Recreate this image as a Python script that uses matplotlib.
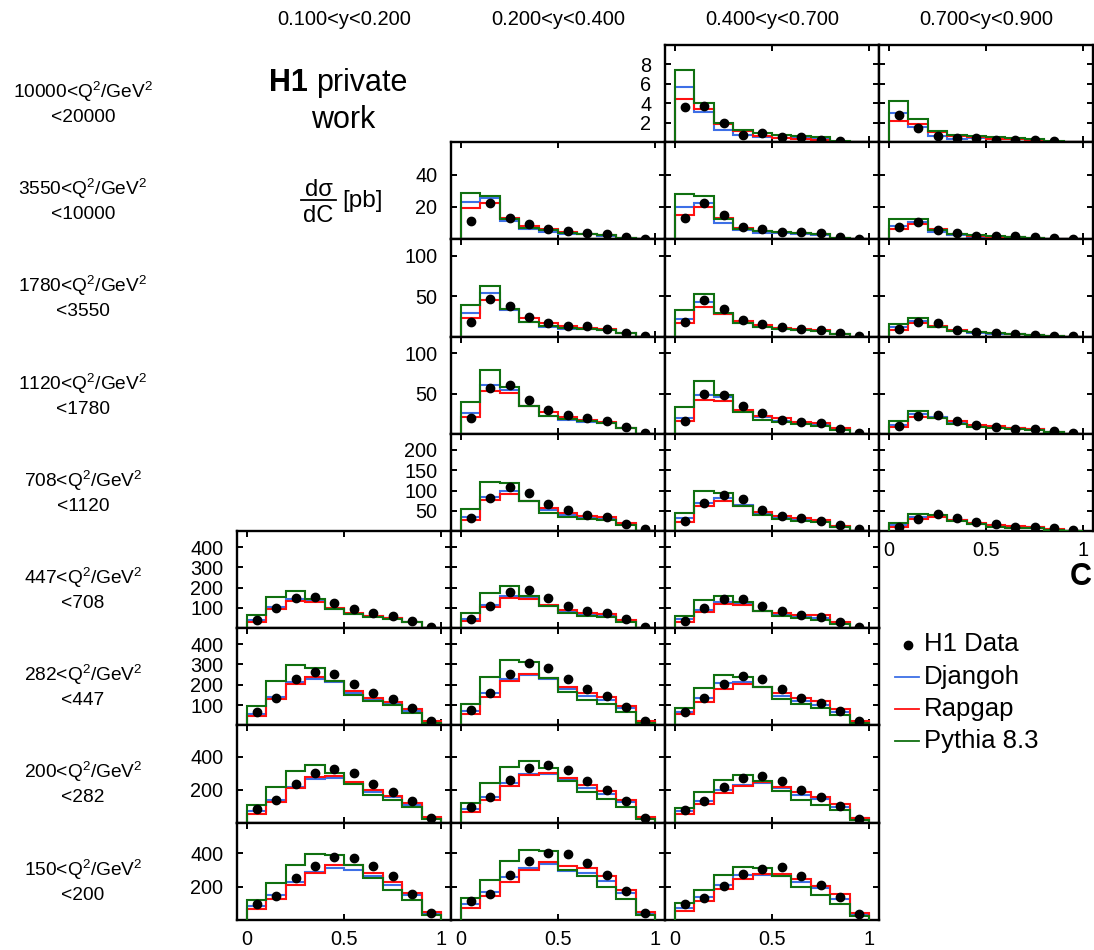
import numpy as np
import matplotlib
matplotlib.use("Agg")
import matplotlib.pyplot as plt
from matplotlib.lines import Line2D

plt.rcParams['font.family'] = ['Liberation Sans', 'DejaVu Sans']
plt.rcParams['mathtext.fontset'] = 'custom'
plt.rcParams['mathtext.rm'] = 'Liberation Sans'
plt.rcParams['mathtext.it'] = 'Liberation Sans:italic'
plt.rcParams['mathtext.bf'] = 'Liberation Sans:bold'

# ---------------------------------------------------------------- binning
C_EDGES = [0.0, 0.1, 0.2, 0.3, 0.4, 0.5, 0.6, 0.7, 0.8, 0.9, 1.0]
Y_BINS = ["0.100<y<0.200", "0.200<y<0.400", "0.400<y<0.700", "0.700<y<0.900"]
Q2_LOW = ["10000", "3550", "1780", "1120", "708", "447", "282", "200", "150"]
Q2_HIGH = ["20000", "10000", "3550", "1780", "1120", "708", "447", "282", "200"]
Y_TICKS = [[2, 4, 6, 8], [20, 40], [50, 100], [50, 100], [50, 100, 150, 200],
           [100, 200, 300, 400], [100, 200, 300, 400], [200, 400], [200, 400]]
Y_MAX = [10, 60, 120, 121, 240, 480, 478, 592, 585]

nan = float('nan')

# ---------------------------------------------------------------- dsigma/dC [pb]
# Q2 10000-20000
h1_r0c2 = [3.57, 3.74, 2.0, 0.79, 0.96, 0.51, 0.55, 0.27, 0.1, nan]
dj_r0c2 = [5.65, 3.1, 1.3, 0.79, 0.55, 0.44, 0.4, 0.3, 0.05, 0]
rg_r0c2 = [4.43, 3.4, 1.83, 1.13, 0.68, 0.44, 0.37, 0.27, 0.05, 0]
py_r0c2 = [7.4, 4.0, 2.0, 1.24, 0.96, 0.79, 0.68, 0.51, 0.16, 0]
h1_r0c3 = [2.8, 1.48, 0.61, 0.44, 0.44, 0.27, 0.27, 0.23, 0.1, nan]
dj_r0c3 = [3.04, 1.59, 0.61, 0.37, 0.44, 0.35, 0.3, 0.25, 0.05, 0]
rg_r0c3 = [2.18, 1.83, 1.07, 0.6, 0.5, 0.37, 0.37, 0.27, 0.05, 0]
py_r0c3 = [4.25, 2.42, 1.2, 0.79, 0.61, 0.5, 0.44, 0.37, 0.1, 0]

# Q2 3550-10000
h1_r1c1 = [11.4, 22.3, 13.0, 9.3, 6.4, 5.2, 4.1, 3.5, 1.4, 0.4]
dj_r1c1 = [23.3, 25.4, 11.4, 6.2, 4.7, 3.5, 3.1, 2.1, 0.6, 0]
rg_r1c1 = [19.2, 22.3, 13.4, 8.3, 6.2, 4.7, 3.5, 2.7, 0.6, 0]
py_r1c1 = [28.5, 26.8, 12.4, 7.2, 5.6, 4.1, 3.5, 2.5, 0.6, 0]
h1_r1c2 = [13.0, 22.7, 15.1, 7.8, 6.4, 4.5, 4.3, 3.7, 1.4, 0.4]
dj_r1c2 = [20.2, 22.7, 10.3, 5.6, 4.1, 3.7, 3.5, 2.9, 1.0, 0]
rg_r1c2 = [15.1, 20.2, 13.0, 6.8, 5.2, 4.5, 3.9, 3.1, 1.0, 0]
py_r1c2 = [27.9, 26.8, 12.4, 6.2, 5.2, 4.7, 4.1, 3.5, 1.0, 0]
h1_r1c3 = [7.6, 10.7, 5.6, 3.7, 2.3, 2.1, 1.9, 1.2, 0.6, 0.2]
dj_r1c3 = [8.3, 10.9, 4.7, 2.5, 1.6, 1.4, 1.2, 0.9, 0.2, 0]
rg_r1c3 = [6.6, 9.3, 6.2, 3.5, 2.1, 1.6, 1.3, 0.9, 0.2, 0]
py_r1c3 = [12.8, 12.4, 5.6, 3.5, 2.5, 1.9, 1.4, 1.0, 0.2, 0]

# Q2 1780-3550
h1_r2c1 = [18.4, 46.3, 37.3, 23.8, 16.4, 13.5, 12.7, 9.4, 4.1, 1.2]
dj_r2c1 = [28.7, 53.7, 32.8, 17.6, 12.3, 9.4, 9.0, 7.8, 4.1, 0]
rg_r2c1 = [23.0, 45.5, 34.0, 23.0, 16.4, 12.7, 10.2, 9.0, 4.1, 0]
py_r2c1 = [38.9, 61.9, 34.0, 18.4, 13.5, 10.2, 9.4, 8.2, 4.1, 0]
h1_r2c2 = [17.6, 45.5, 34.0, 20.5, 15.6, 11.5, 9.4, 8.2, 4.1, 0.8]
dj_r2c2 = [21.7, 43.0, 27.9, 16.4, 11.5, 9.4, 8.2, 7.4, 3.3, 0]
rg_r2c2 = [16.8, 36.0, 27.9, 19.7, 14.8, 10.7, 9.0, 8.2, 3.3, 0]
py_r2c2 = [32.8, 52.5, 29.0, 16.4, 12.3, 9.4, 8.2, 7.4, 3.3, 0]
h1_r2c3 = [9.4, 18.4, 16.4, 8.6, 6.1, 4.5, 3.3, 2.5, 1.2, 0.4]
dj_r2c3 = [11.5, 19.7, 12.3, 6.6, 4.9, 3.3, 2.9, 2.3, 0.8, 0]
rg_r2c3 = [8.2, 16.4, 13.5, 8.6, 6.1, 4.5, 3.7, 2.5, 0.8, 0]
py_r2c3 = [15.6, 22.5, 12.3, 7.4, 5.3, 4.1, 3.3, 2.5, 0.8, 0]

# Q2 1120-1780
h1_r3c1 = [19.2, 56.7, 61.3, 42.1, 30.0, 23.8, 19.2, 15.8, 8.8, 1.2]
dj_r3c1 = [25.4, 60.8, 54.6, 34.2, 22.5, 17.1, 15.0, 12.9, 7.1, 0]
rg_r3c1 = [21.3, 53.8, 50.4, 35.0, 26.7, 21.3, 17.1, 15.0, 7.1, 0]
py_r3c1 = [39.2, 79.6, 58.8, 34.2, 22.5, 18.3, 15.4, 13.3, 7.1, 0]
h1_r3c2 = [15.4, 49.6, 48.8, 35.0, 25.4, 17.1, 14.2, 13.3, 5.8, 1.2]
dj_r3c2 = [19.6, 48.3, 45.4, 28.8, 20.4, 16.3, 13.3, 11.7, 5.5, 0]
rg_r3c2 = [15.4, 42.1, 41.3, 30.0, 22.5, 19.2, 15.0, 13.3, 6.7, 0]
py_r3c2 = [32.9, 66.3, 48.3, 26.7, 17.5, 14.2, 12.1, 10.0, 4.6, 0]
h1_r3c3 = [9.3, 22.4, 23.6, 15.4, 11.4, 8.5, 6.1, 6.1, 3.3, 1.2]
dj_r3c3 = [11.4, 24.8, 20.3, 13.4, 10.0, 7.9, 6.9, 5.7, 2.4, 0]
rg_r3c3 = [8.5, 20.3, 19.5, 15.4, 11.4, 9.3, 7.7, 6.5, 2.8, 0]
py_r3c3 = [15.4, 28.9, 19.5, 12.2, 8.5, 6.9, 6.1, 4.9, 2.0, 0]

# Q2 708-1120
h1_r4c1 = [33.0, 82.4, 109.6, 93.2, 66.0, 52.0, 39.6, 35.4, 17.3, 4.1]
dj_r4c1 = [33.8, 85.0, 99.8, 75.0, 52.0, 39.6, 33.0, 30.5, 17.0, 0]
rg_r4c1 = [27.2, 76.7, 91.5, 75.0, 56.0, 43.7, 37.1, 33.8, 19.0, 0]
py_r4c1 = [54.4, 122.0, 119.5, 75.0, 43.7, 33.8, 29.7, 27.2, 14.8, 0]
h1_r4c2 = [25.6, 68.4, 89.0, 79.1, 52.0, 37.9, 31.3, 25.6, 14.8, 4.1]
dj_r4c2 = [31.3, 68.4, 80.8, 64.3, 42.0, 33.0, 28.0, 24.0, 11.0, 0]
rg_r4c2 = [21.4, 61.8, 75.0, 62.7, 46.2, 37.1, 31.3, 27.2, 13.2, 0]
py_r4c2 = [45.3, 99.8, 93.2, 62.7, 39.6, 29.7, 25.6, 21.4, 9.1, 0]
h1_r4c3 = [10.5, 29.4, 41.8, 31.1, 21.2, 17.1, 10.5, 10.5, 6.3, 2.2]
dj_r4c3 = [14.6, 35.2, 36.8, 27.0, 18.5, 12.5, 10.0, 9.0, 3.0, 0]
rg_r4c3 = [10.5, 29.4, 33.5, 27.0, 20.4, 14.6, 12.1, 10.5, 3.9, 0]
py_r4c3 = [18.7, 40.9, 39.3, 24.5, 16.2, 10.5, 8.0, 8.0, 2.2, 0]

# Q2 447-708
h1_r5c0 = [41.0, 98.8, 148.3, 156.5, 123.6, 94.0, 77.4, 62.6, 37.9, 8.2]
dj_r5c0 = [41.0, 107.0, 145.0, 140.0, 96.0, 70.0, 60.0, 50.0, 31.0, 3]
rg_r5c0 = [33.0, 95.6, 135.0, 131.8, 98.8, 74.1, 62.6, 52.7, 33.0, 3]
py_r5c0 = [65.9, 156.5, 184.5, 145.0, 94.0, 69.2, 57.7, 46.1, 29.7, 3]
h1_r5c1 = [44.5, 112.0, 181.2, 189.5, 148.3, 110.4, 85.7, 74.1, 44.5, 8.2]
dj_r5c1 = [46.1, 115.3, 159.8, 151.6, 110.4, 82.4, 69.2, 62.6, 36.0, 3]
rg_r5c1 = [36.2, 103.8, 151.6, 145.0, 115.3, 90.6, 74.1, 69.2, 41.2, 3]
py_r5c1 = [74.1, 173.0, 206.0, 161.4, 110.4, 74.1, 62.6, 54.4, 29.7, 3]
h1_r5c2 = [37.9, 102.1, 145.0, 145.0, 110.4, 85.7, 65.9, 57.7, 33.0, 8.2]
dj_r5c2 = [44.5, 90.6, 131.8, 123.6, 85.7, 69.2, 57.7, 52.7, 28.0, 3]
rg_r5c2 = [33.0, 82.4, 118.6, 115.3, 85.7, 74.1, 65.9, 65.9, 33.0, 3]
py_r5c2 = [62.6, 140.0, 161.4, 128.5, 85.7, 61.0, 49.4, 41.2, 21.4, 3]

# Q2 282-447
h1_r6c0 = [66.1, 133.9, 225.8, 262.9, 254.8, 201.6, 158.0, 130.6, 85.5, 21.0]
dj_r6c0 = [58.0, 138.7, 211.3, 230.6, 211.3, 158.0, 125.8, 106.5, 72.6, 16]
rg_r6c0 = [48.4, 129.0, 203.2, 238.7, 217.7, 169.4, 133.9, 114.5, 80.6, 21]
py_r6c0 = [96.8, 219.0, 295.0, 282.0, 217.7, 150.0, 117.7, 101.6, 61.3, 12.9]
h1_r6c1 = [74.2, 158.0, 254.8, 308.0, 282.3, 227.4, 179.0, 146.8, 88.7, 21.0]
dj_r6c1 = [69.4, 158.0, 227.4, 246.8, 227.4, 177.4, 145.2, 122.6, 85.5, 17]
rg_r6c1 = [58.0, 138.7, 217.7, 251.6, 233.9, 187.0, 158.0, 138.7, 96.8, 21]
py_r6c1 = [106.5, 238.7, 319.4, 311.3, 233.9, 166.0, 125.8, 106.5, 66.1, 12.9]
h1_r6c2 = [66.1, 137.0, 203.2, 243.5, 230.6, 179.0, 133.9, 109.7, 69.4, 21.0]
dj_r6c2 = [64.5, 137.0, 206.5, 214.5, 187.0, 145.2, 121.0, 101.6, 66.1, 15]
rg_r6c2 = [56.5, 114.5, 179.0, 201.6, 187.0, 158.0, 137.0, 117.7, 82.3, 21]
py_r6c2 = [85.5, 185.5, 250.0, 238.7, 187.0, 129.0, 106.5, 85.5, 50.0, 9.7]

# Q2 200-282
h1_r7c0 = [83.2, 138.6, 237.6, 303.0, 326.7, 301.0, 237.6, 188.1, 128.7, 25.7]
dj_r7c0 = [69.3, 138.6, 217.8, 267.3, 271.3, 241.6, 188.1, 154.5, 108.9, 28]
rg_r7c0 = [53.5, 124.8, 207.9, 277.2, 281.2, 247.5, 198.0, 162.4, 118.8, 33.7]
py_r7c0 = [105.0, 217.8, 312.9, 350.5, 303.0, 233.7, 168.3, 134.7, 93.1, 19.8]
h1_r7c1 = [95.0, 158.4, 257.4, 332.7, 352.5, 320.8, 253.5, 198.0, 128.7, 29.7]
dj_r7c1 = [83.2, 158.4, 241.6, 293.0, 293.0, 263.4, 207.9, 174.3, 122.8, 30]
rg_r7c1 = [63.4, 138.6, 223.8, 287.1, 303.0, 273.3, 231.7, 194.0, 138.6, 35.6]
py_r7c1 = [118.8, 241.6, 340.6, 376.2, 330.7, 253.5, 184.2, 144.6, 95.0, 19.8]
h1_r7c2 = [79.2, 132.7, 213.9, 273.3, 283.2, 251.5, 198.0, 158.4, 99.0, 23.8]
dj_r7c2 = [69.3, 132.7, 198.0, 231.7, 241.6, 207.9, 168.3, 142.6, 95.0, 25]
rg_r7c2 = [53.5, 114.9, 182.2, 223.8, 247.5, 217.8, 188.1, 158.4, 114.9, 29.7]
py_r7c2 = [89.1, 184.2, 257.4, 287.1, 253.5, 192.1, 138.6, 108.9, 75.2, 15.8]

# Q2 150-200
h1_r8c0 = [98.0, 141.2, 249.0, 323.5, 380.4, 372.5, 323.5, 262.7, 156.9, 39.2]
dj_r8c0 = [82.4, 147.0, 225.5, 288.2, 313.7, 298.0, 264.7, 209.8, 147.0, 39.2]
rg_r8c0 = [62.7, 125.5, 209.8, 282.4, 331.4, 327.5, 284.3, 229.4, 160.8, 47.0]
py_r8c0 = [121.6, 219.6, 331.4, 396.0, 390.2, 327.5, 249.0, 180.4, 121.6, 27.5]
h1_r8c1 = [111.8, 156.9, 268.6, 351.0, 400.0, 396.0, 341.2, 268.6, 174.5, 43.1]
dj_r8c1 = [98.0, 166.7, 254.9, 313.7, 333.3, 294.0, 282.4, 235.3, 160.8, 39.0]
rg_r8c1 = [72.5, 141.2, 229.4, 302.0, 347.0, 323.5, 313.7, 262.7, 180.4, 47.0]
py_r8c1 = [131.4, 239.2, 352.9, 421.6, 415.7, 298.0, 264.7, 200.0, 127.5, 27.5]
h1_r8c2 = [96.1, 131.4, 205.9, 278.4, 307.8, 317.6, 264.7, 209.8, 137.3, 33.3]
dj_r8c2 = [72.5, 135.3, 209.8, 268.6, 268.6, 264.7, 229.4, 190.2, 125.5, 33.3]
rg_r8c2 = [52.9, 115.7, 186.3, 245.1, 278.4, 278.4, 243.1, 205.9, 155.0, 43.1]
py_r8c2 = [102.0, 180.4, 268.6, 317.6, 313.7, 262.7, 200.0, 151.0, 98.0, 23.5]

PANELS = {
    (0, 2): (h1_r0c2, dj_r0c2, rg_r0c2, py_r0c2),
    (0, 3): (h1_r0c3, dj_r0c3, rg_r0c3, py_r0c3),
    (1, 1): (h1_r1c1, dj_r1c1, rg_r1c1, py_r1c1),
    (1, 2): (h1_r1c2, dj_r1c2, rg_r1c2, py_r1c2),
    (1, 3): (h1_r1c3, dj_r1c3, rg_r1c3, py_r1c3),
    (2, 1): (h1_r2c1, dj_r2c1, rg_r2c1, py_r2c1),
    (2, 2): (h1_r2c2, dj_r2c2, rg_r2c2, py_r2c2),
    (2, 3): (h1_r2c3, dj_r2c3, rg_r2c3, py_r2c3),
    (3, 1): (h1_r3c1, dj_r3c1, rg_r3c1, py_r3c1),
    (3, 2): (h1_r3c2, dj_r3c2, rg_r3c2, py_r3c2),
    (3, 3): (h1_r3c3, dj_r3c3, rg_r3c3, py_r3c3),
    (4, 1): (h1_r4c1, dj_r4c1, rg_r4c1, py_r4c1),
    (4, 2): (h1_r4c2, dj_r4c2, rg_r4c2, py_r4c2),
    (4, 3): (h1_r4c3, dj_r4c3, rg_r4c3, py_r4c3),
    (5, 0): (h1_r5c0, dj_r5c0, rg_r5c0, py_r5c0),
    (5, 1): (h1_r5c1, dj_r5c1, rg_r5c1, py_r5c1),
    (5, 2): (h1_r5c2, dj_r5c2, rg_r5c2, py_r5c2),
    (6, 0): (h1_r6c0, dj_r6c0, rg_r6c0, py_r6c0),
    (6, 1): (h1_r6c1, dj_r6c1, rg_r6c1, py_r6c1),
    (6, 2): (h1_r6c2, dj_r6c2, rg_r6c2, py_r6c2),
    (7, 0): (h1_r7c0, dj_r7c0, rg_r7c0, py_r7c0),
    (7, 1): (h1_r7c1, dj_r7c1, rg_r7c1, py_r7c1),
    (7, 2): (h1_r7c2, dj_r7c2, rg_r7c2, py_r7c2),
    (8, 0): (h1_r8c0, dj_r8c0, rg_r8c0, py_r8c0),
    (8, 1): (h1_r8c1, dj_r8c1, rg_r8c1, py_r8c1),
    (8, 2): (h1_r8c2, dj_r8c2, rg_r8c2, py_r8c2),
}

# ---------------------------------------------------------------- style
COL_DJ = '#3d6fe6'
COL_RG = '#ff1010'
COL_PY = '#107010'
TICK_FS = 14.3

W, H = 1094, 950
fig = plt.figure(figsize=(W / 100, H / 100), dpi=100)


def fx(x):
    return x / W


def fy(y):
    return 1 - y / H


GRID_LEFT, GRID_TOP = 237.3, 45.0
CELL_W, CELL_H = 214.0, 97.2

centres = 0.5 * (np.array(C_EDGES[:-1]) + np.array(C_EDGES[1:]))

first_col = {r: min(c for (rr, c) in PANELS if rr == r) for r in range(9)}
x_label_panels = {(8, 0), (8, 1), (8, 2), (4, 3)}

for (r, c), (h1, dj, rg, py) in PANELS.items():
    left = GRID_LEFT + c * CELL_W
    top = GRID_TOP + r * CELL_H
    ax = fig.add_axes([fx(left), fy(top + CELL_H), CELL_W / W, CELL_H / H])
    ax.stairs(dj, C_EDGES, color=COL_DJ, lw=1.5, zorder=2)
    ax.stairs(rg, C_EDGES, color=COL_RG, lw=1.5, zorder=3)
    ax.stairs(py, C_EDGES, color=COL_PY, lw=1.5, zorder=4)
    ax.plot(centres, h1, 'o', color='black', ms=6, zorder=5)
    ax.set_xlim(-0.05, 1.053)
    ax.set_ylim(0, Y_MAX[r])
    ax.set_xticks([0, 0.5, 1])
    ax.set_xticklabels(['0', '0.5', '1'])
    ax.set_yticks(Y_TICKS[r])
    ax.set_yticklabels([str(t) for t in Y_TICKS[r]])
    ax.tick_params(direction='in', top=True, right=True, length=4.5,
                   width=1.4, labelsize=TICK_FS, color='black')
    ax.tick_params(axis='y', pad=10)
    ax.tick_params(axis='x', pad=7)
    ax.tick_params(labelleft=(c == first_col[r]),
                   labelbottom=((r, c) in x_label_panels))
    for sp in ax.spines.values():
        sp.set_linewidth(1.7)
        sp.set_color('black')

# column headings
for c, lab in enumerate(Y_BINS):
    fig.text(fx(GRID_LEFT + (c + 0.5) * CELL_W), fy(25), lab,
             ha='center', va='baseline', fontsize=14.5)

# row headings
for r in range(9):
    yc = GRID_TOP + (r + 0.5) * CELL_H
    fig.text(fx(83), fy(yc + 4.5), Q2_LOW[r] + r'<Q$^2$/GeV$^2$',
             ha='center', va='baseline', fontsize=13.8)
    fig.text(fx(83), fy(yc + 28.5), '<' + Q2_HIGH[r],
             ha='center', va='baseline', fontsize=13.8)

# experiment label
fig.text(fx(269), fy(90.7), 'H1', fontsize=22, fontweight='bold',
         ha='left', va='baseline')
fig.text(fx(316), fy(90.7), 'private', fontsize=22, ha='left', va='baseline')
fig.text(fx(343), fy(128), 'work', fontsize=22, ha='center', va='baseline')

# y-axis quantity
fig.text(fx(318.5), fy(195.5), 'dσ', fontsize=17, ha='center', va='baseline')
fig.text(fx(318.5), fy(222.5), 'dC', fontsize=17, ha='center', va='baseline')
fig.add_artist(Line2D([fx(301), fx(336)], [fy(199.5), fy(199.5)],
                      color='black', lw=1.3, transform=fig.transFigure))
fig.text(fx(342), fy(207), '[pb]', fontsize=17.5, ha='left', va='baseline')

# x-axis quantity
fig.text(fx(1092), fy(585), 'C', fontsize=22, fontweight='bold',
         ha='right', va='baseline')

# legend
fig.add_artist(Line2D([fx(908)], [fy(645)], marker='o', ms=6, color='black',
                      ls='none', transform=fig.transFigure))
fig.text(fx(924), fy(651), 'H1 Data', fontsize=18.5, ha='left', va='baseline')
for y, col, lab in [(677, COL_DJ, 'Djangoh'), (709, COL_RG, 'Rapgap'),
                    (741, COL_PY, 'Pythia 8.3')]:
    fig.add_artist(Line2D([fx(895), fx(919)], [fy(y), fy(y)], color=col, lw=1.3,
                          transform=fig.transFigure))
    fig.text(fx(924), fy(y + 7), lab, fontsize=18.5, ha='left', va='baseline')

fig.savefig('out.png', dpi=100)
